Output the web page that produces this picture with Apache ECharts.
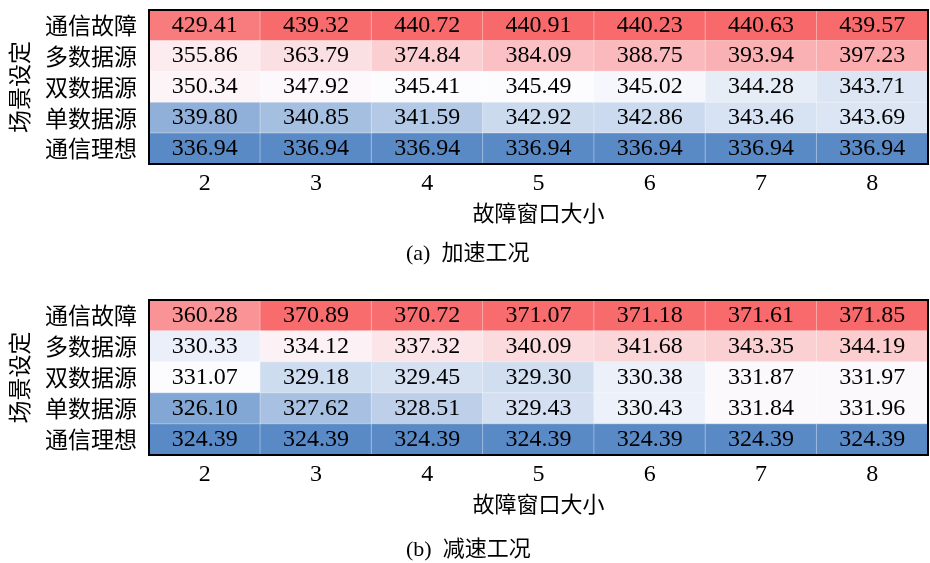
<!DOCTYPE html>
<html>
<head>
<meta charset="utf-8">
<script src="https://cdn.jsdelivr.net/npm/echarts@6/dist/echarts.min.js"></script>
<style>
  html, body { margin: 0; padding: 0; background: #fff; }
  #chart { width: 930px; height: 563px; }
</style>
</head>
<body>
<div id="chart"></div>
<script>
// Fault window sizes (x axis) and scenario settings (y axis, top to bottom)
const windowSizes = ['2', '3', '4', '5', '6', '7', '8'];
const scenarios = ['通信故障', '多数据源', '双数据源', '单数据源', '通信理想'];

// (a) acceleration condition, one row per scenario
const accelValues = [
  [429.41, 439.32, 440.72, 440.91, 440.23, 440.63, 439.57],
  [355.86, 363.79, 374.84, 384.09, 388.75, 393.94, 397.23],
  [350.34, 347.92, 345.41, 345.49, 345.02, 344.28, 343.71],
  [339.80, 340.85, 341.59, 342.92, 342.86, 343.46, 343.69],
  [336.94, 336.94, 336.94, 336.94, 336.94, 336.94, 336.94]
];

// (b) deceleration condition, one row per scenario
const decelValues = [
  [360.28, 370.89, 370.72, 371.07, 371.18, 371.61, 371.85],
  [330.33, 334.12, 337.32, 340.09, 341.68, 343.35, 344.19],
  [331.07, 329.18, 329.45, 329.30, 330.38, 331.87, 331.97],
  [326.10, 327.62, 328.51, 329.43, 330.43, 331.84, 331.96],
  [324.39, 324.39, 324.39, 324.39, 324.39, 324.39, 324.39]
];

const captions = ['(a)  加速工况', '(b)  减速工况'];

// Three-colour scale: min -> blue, median -> white, max -> red
const scaleColors = ['#5A8AC6', '#FCFCFF', '#F8696B'];

function buildCells(rows) {
  const flat = rows.flat().slice().sort((a, b) => a - b);
  const min = flat[0], max = flat[flat.length - 1];
  const n = flat.length;
  const mid = n % 2 ? flat[(n - 1) / 2] : (flat[n / 2 - 1] + flat[n / 2]) / 2;
  const cells = [];
  rows.forEach((row, yi) => {
    row.forEach((v, xi) => {
      let t;
      if (v <= mid) t = mid === min ? 0.5 : 0.5 * (v - min) / (mid - min);
      else t = 0.5 + 0.5 * (v - mid) / (max - mid);
      cells.push([xi, yi, v, t]);
    });
  });
  return cells;
}

const serif = '"Liberation Serif", "Times New Roman", serif';
const cjk = '"Noto Sans CJK SC", sans-serif';
const panels = [
  { rows: accelValues, top: 10, height: 154, captionTop: 238 },
  { rows: decelValues, top: 300, height: 155, captionTop: 534 }
];

const option = {
  backgroundColor: '#fff',
  animation: false,
  title: panels.map((p, i) => ({
    text: captions[i],
    left: 401,
    top: p.captionTop,
    textStyle: { fontFamily: serif + ', ' + cjk, fontSize: 22, fontWeight: 'normal', color: '#000' }
  })),
  grid: panels.map(p => ({
    left: 149, right: 2, top: p.top, height: p.height,
    show: true, z: 10, borderColor: '#000', borderWidth: 2,
    backgroundColor: 'transparent'
  })),
  xAxis: panels.map((p, i) => ({
    type: 'category', gridIndex: i, data: windowSizes,
    name: '故障窗口大小', nameLocation: 'middle', nameGap: 38,
    nameTextStyle: { fontFamily: cjk, fontSize: 22, color: '#000' },
    axisLine: { show: false }, axisTick: { show: false }, splitLine: { show: false },
    axisLabel: { fontFamily: serif, fontSize: 24, color: '#000', margin: 8 }
  })),
  yAxis: panels.map((p, i) => ({
    type: 'category', gridIndex: i, data: scenarios, inverse: true,
    name: '场景设定', nameLocation: 'middle', nameGap: 118, nameRotate: 90,
    nameTextStyle: { fontFamily: cjk, fontSize: 23, color: '#000' },
    axisLine: { show: false }, axisTick: { show: false }, splitLine: { show: false },
    axisLabel: { fontFamily: cjk, fontSize: 23, color: '#000', margin: 12 }
  })),
  visualMap: panels.map((p, i) => ({
    type: 'continuous', show: false, seriesIndex: i, dimension: 3,
    min: 0, max: 1, inRange: { color: scaleColors }
  })),
  series: panels.map((p, i) => ({
    type: 'heatmap', xAxisIndex: i, yAxisIndex: i,
    data: buildCells(p.rows),
    itemStyle: { borderColor: 'rgba(255,255,255,0.35)', borderWidth: 1 },
    label: {
      show: true, color: '#000', fontFamily: serif, fontSize: 24,
      formatter: prm => prm.value[2].toFixed(2)
    },
    emphasis: { disabled: true }
  }))
};

const chart = echarts.init(document.getElementById('chart'), null, { renderer: 'canvas' });
chart.setOption(option);
</script>
</body>
</html>
